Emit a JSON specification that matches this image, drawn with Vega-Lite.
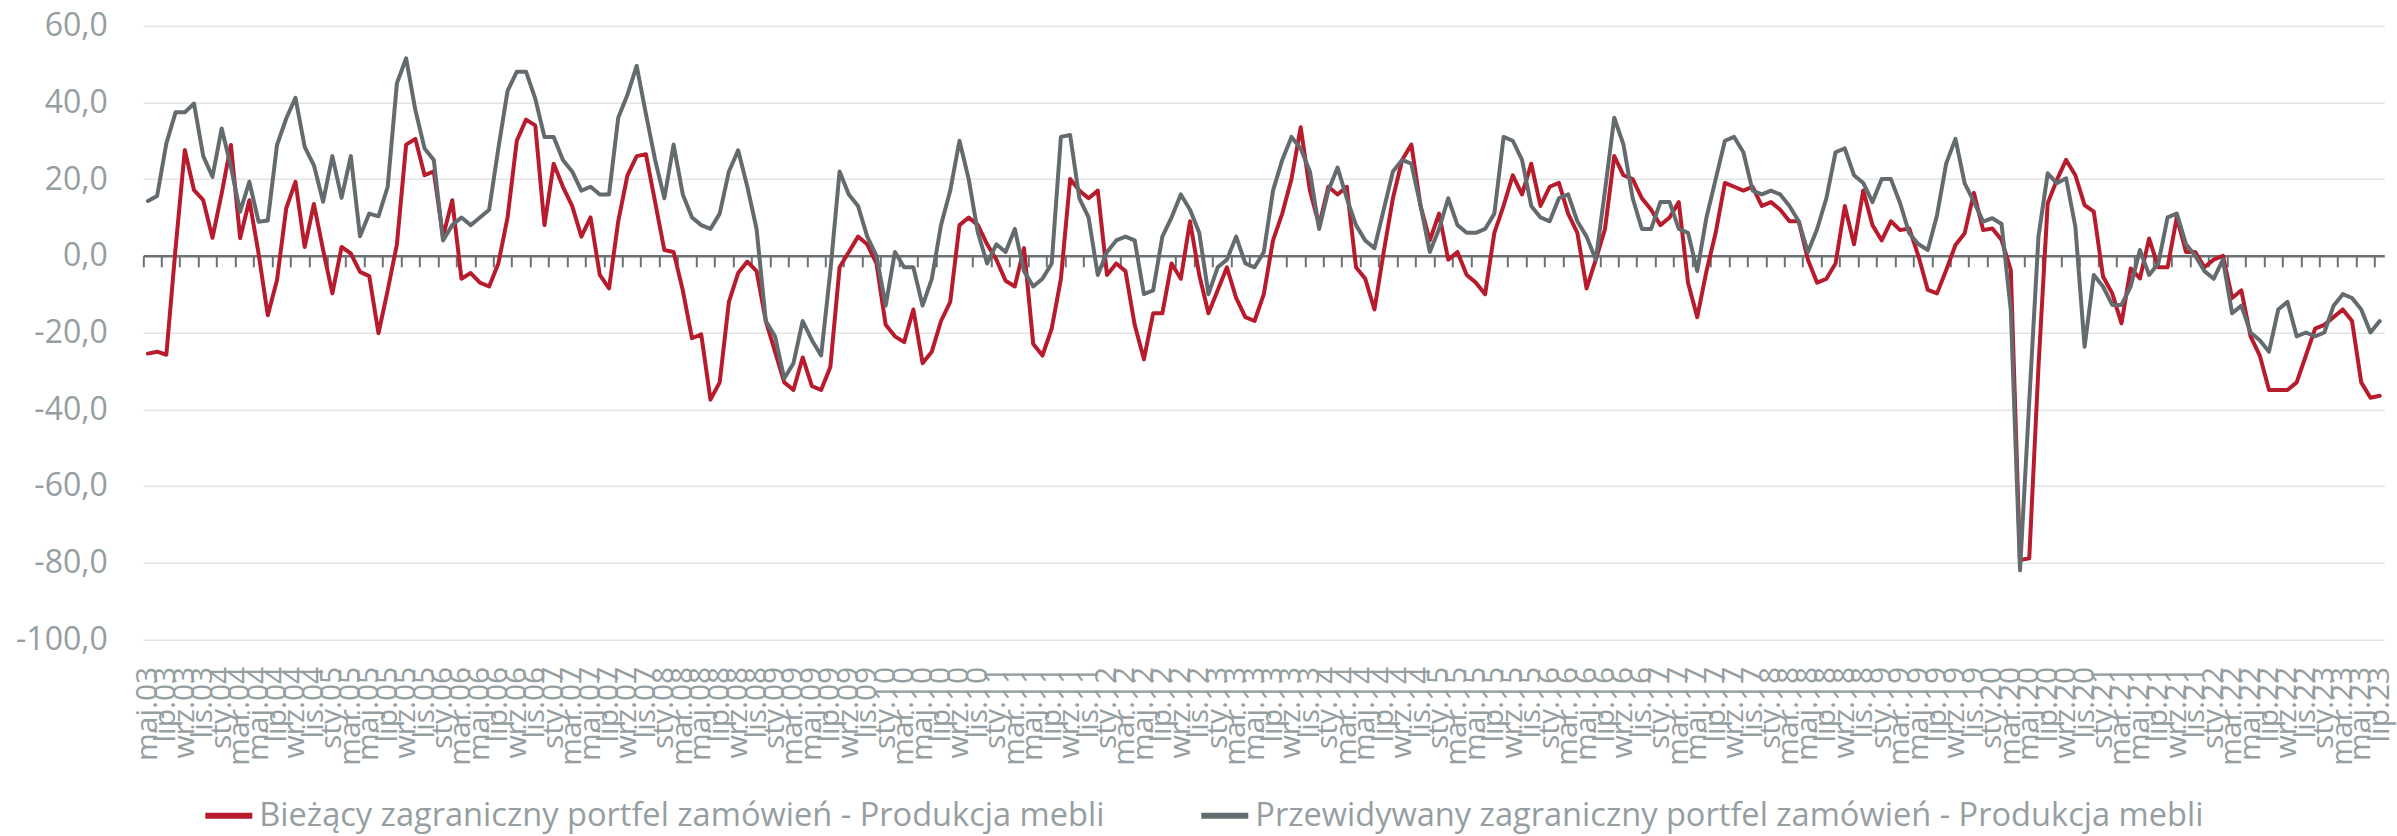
{
  "$schema": "https://vega.github.io/schema/vega-lite/v6.json",
  "autosize": {"type": "none"},
  "width": 2241,
  "height": 613.6,
  "padding": {"left": 143.3, "top": 25.7, "right": 12.7, "bottom": 196.7},
  "background": "white",
  "config": {"view": {"stroke": null}, "font": "Open Sans"},
  "data": {"values": [
    {"m":"maj.03","a":-25.5,"b":14.3},{"m":"cze.03","a":-25,"b":15.6},{"m":"lip.03","a":-25.8,"b":29.3},{"m":"sie.03","a":2,"b":37.4},{"m":"wrz.03","a":27.6,"b":37.4},{"m":"paź.03","a":17.1,"b":39.7},{"m":"lis.03","a":14.5,"b":26},{"m":"gru.03","a":4.7,"b":20.6},
    {"m":"sty.04","a":16.3,"b":33.2},{"m":"lut.04","a":28.9,"b":23.2},{"m":"mar.04","a":4.6,"b":11.5},{"m":"kwi.04","a":14.5,"b":19.3},{"m":"maj.04","a":0.6,"b":8.9},{"m":"cze.04","a":-15.5,"b":9.2},{"m":"lip.04","a":-6.3,"b":28.9},{"m":"sie.04","a":12.4,"b":35.8},{"m":"wrz.04","a":19.3,"b":41.2},{"m":"paź.04","a":2.3,"b":28.4},{"m":"lis.04","a":13.5,"b":23.6},{"m":"gru.04","a":1.5,"b":14.1},
    {"m":"sty.05","a":-9.8,"b":26},{"m":"lut.05","a":2.3,"b":15.1},{"m":"mar.05","a":0.6,"b":26},{"m":"kwi.05","a":-4.2,"b":5.1},{"m":"maj.05","a":-5.3,"b":11},{"m":"cze.05","a":-20.2,"b":10.3},{"m":"lip.05","a":-9,"b":18},{"m":"sie.05","a":3,"b":45},{"m":"wrz.05","a":29,"b":51.5},{"m":"paź.05","a":30.5,"b":38},{"m":"lis.05","a":21,"b":28},{"m":"gru.05","a":22,"b":25},
    {"m":"sty.06","a":5,"b":4},{"m":"lut.06","a":14.5,"b":8},{"m":"mar.06","a":-6,"b":10},{"m":"kwi.06","a":-4.5,"b":8},{"m":"maj.06","a":-7,"b":10},{"m":"cze.06","a":-8,"b":12},{"m":"lip.06","a":-2,"b":28},{"m":"sie.06","a":10,"b":43},{"m":"wrz.06","a":30,"b":48},{"m":"paź.06","a":35.5,"b":48},{"m":"lis.06","a":34,"b":41},{"m":"gru.06","a":8,"b":31},
    {"m":"sty.07","a":24,"b":31},{"m":"lut.07","a":18,"b":25},{"m":"mar.07","a":13,"b":22},{"m":"kwi.07","a":5,"b":17},{"m":"maj.07","a":10,"b":18},{"m":"cze.07","a":-5,"b":16},{"m":"lip.07","a":-8.5,"b":16},{"m":"sie.07","a":9,"b":36},{"m":"wrz.07","a":21,"b":42},{"m":"paź.07","a":26,"b":49.5},{"m":"lis.07","a":26.5,"b":37},{"m":"gru.07","a":14,"b":25},
    {"m":"sty.08","a":1.5,"b":15},{"m":"lut.08","a":1,"b":29},{"m":"mar.08","a":-9,"b":16},{"m":"kwi.08","a":-21.5,"b":10},{"m":"maj.08","a":-20.5,"b":8},{"m":"cze.08","a":-37.5,"b":7},{"m":"lip.08","a":-33,"b":11},{"m":"sie.08","a":-12,"b":22},{"m":"wrz.08","a":-4.5,"b":27.5},{"m":"paź.08","a":-1.5,"b":18},{"m":"lis.08","a":-4,"b":7},{"m":"gru.08","a":-17,"b":-17},
    {"m":"sty.09","a":-25,"b":-21},{"m":"lut.09","a":-33,"b":-32},{"m":"mar.09","a":-35,"b":-28},{"m":"kwi.09","a":-26.5,"b":-17},{"m":"maj.09","a":-34,"b":-22},{"m":"cze.09","a":-35,"b":-26},{"m":"lip.09","a":-29,"b":-4},{"m":"sie.09","a":-3,"b":22},{"m":"wrz.09","a":1,"b":16},{"m":"paź.09","a":5,"b":13},{"m":"lis.09","a":3,"b":5},{"m":"gru.09","a":-2,"b":0},
    {"m":"sty.10","a":-18,"b":-13},{"m":"lut.10","a":-21,"b":1},{"m":"mar.10","a":-22.5,"b":-3},{"m":"kwi.10","a":-14,"b":-3},{"m":"maj.10","a":-28,"b":-13},{"m":"cze.10","a":-25,"b":-6},{"m":"lip.10","a":-17,"b":8},{"m":"sie.10","a":-12,"b":17},{"m":"wrz.10","a":8,"b":30},{"m":"paź.10","a":10,"b":20},{"m":"lis.10","a":8,"b":6},{"m":"gru.10","a":3,"b":-2},
    {"m":"sty.11","a":-1,"b":3},{"m":"lut.11","a":-6.5,"b":1},{"m":"mar.11","a":-8,"b":7},{"m":"kwi.11","a":2,"b":-4},{"m":"maj.11","a":-23,"b":-8},{"m":"cze.11","a":-26,"b":-6},{"m":"lip.11","a":-19,"b":-2},{"m":"sie.11","a":-6,"b":31},{"m":"wrz.11","a":20,"b":31.5},{"m":"paź.11","a":17,"b":15},{"m":"lis.11","a":15,"b":10},{"m":"gru.11","a":17,"b":-5},
    {"m":"sty.12","a":-5,"b":1},{"m":"lut.12","a":-2,"b":4},{"m":"mar.12","a":-4,"b":5},{"m":"kwi.12","a":-18,"b":4},{"m":"maj.12","a":-27,"b":-10},{"m":"cze.12","a":-15,"b":-9},{"m":"lip.12","a":-15,"b":5},{"m":"sie.12","a":-2,"b":10},{"m":"wrz.12","a":-6,"b":16},{"m":"paź.12","a":9,"b":12},{"m":"lis.12","a":-5,"b":6},{"m":"gru.12","a":-15,"b":-10},
    {"m":"sty.13","a":-9,"b":-3},{"m":"lut.13","a":-3,"b":-1},{"m":"mar.13","a":-11,"b":5},{"m":"kwi.13","a":-16,"b":-2},{"m":"maj.13","a":-17,"b":-3},{"m":"cze.13","a":-10,"b":1},{"m":"lip.13","a":4,"b":17},{"m":"sie.13","a":11,"b":25},{"m":"wrz.13","a":20,"b":31},{"m":"paź.13","a":33.5,"b":28},{"m":"lis.13","a":17,"b":22},{"m":"gru.13","a":8,"b":7},
    {"m":"sty.14","a":18,"b":17},{"m":"lut.14","a":16,"b":23},{"m":"mar.14","a":18,"b":15},{"m":"kwi.14","a":-3,"b":8},{"m":"maj.14","a":-6,"b":4},{"m":"cze.14","a":-14,"b":2},{"m":"lip.14","a":1,"b":12},{"m":"sie.14","a":15,"b":22},{"m":"wrz.14","a":25,"b":25},{"m":"paź.14","a":29,"b":24},{"m":"lis.14","a":13,"b":13},{"m":"gru.14","a":4,"b":1},
    {"m":"sty.15","a":11,"b":7},{"m":"lut.15","a":-1,"b":15},{"m":"mar.15","a":1,"b":8},{"m":"kwi.15","a":-5,"b":6},{"m":"maj.15","a":-7,"b":6},{"m":"cze.15","a":-10,"b":7},{"m":"lip.15","a":6,"b":11},{"m":"sie.15","a":13,"b":31},{"m":"wrz.15","a":21,"b":30},{"m":"paź.15","a":16,"b":25},{"m":"lis.15","a":24,"b":13},{"m":"gru.15","a":13,"b":10},
    {"m":"sty.16","a":18,"b":9},{"m":"lut.16","a":19,"b":15},{"m":"mar.16","a":11,"b":16},{"m":"kwi.16","a":6,"b":9},{"m":"maj.16","a":-8.5,"b":5},{"m":"cze.16","a":-1,"b":-1},{"m":"lip.16","a":7,"b":17},{"m":"sie.16","a":26,"b":36},{"m":"wrz.16","a":21,"b":29},{"m":"paź.16","a":20,"b":15},{"m":"lis.16","a":15,"b":7},{"m":"gru.16","a":12,"b":7},
    {"m":"sty.17","a":8,"b":14},{"m":"lut.17","a":10,"b":14},{"m":"mar.17","a":14,"b":7},{"m":"kwi.17","a":-7,"b":6},{"m":"maj.17","a":-16,"b":-4},{"m":"cze.17","a":-4,"b":10},{"m":"lip.17","a":6,"b":20},{"m":"sie.17","a":19,"b":30},{"m":"wrz.17","a":18,"b":31},{"m":"paź.17","a":17,"b":27},{"m":"lis.17","a":18,"b":17},{"m":"gru.17","a":13,"b":16},
    {"m":"sty.18","a":14,"b":17},{"m":"lut.18","a":12,"b":16},{"m":"mar.18","a":9,"b":13},{"m":"kwi.18","a":9,"b":9},{"m":"maj.18","a":-1,"b":1},{"m":"cze.18","a":-7,"b":7},{"m":"lip.18","a":-6,"b":15},{"m":"sie.18","a":-2,"b":27},{"m":"wrz.18","a":13,"b":28},{"m":"paź.18","a":3,"b":21},{"m":"lis.18","a":17,"b":19},{"m":"gru.18","a":8,"b":14},
    {"m":"sty.19","a":4,"b":20},{"m":"lut.19","a":9,"b":20},{"m":"mar.19","a":6.7,"b":13.7},{"m":"kwi.19","a":7.1,"b":5.8},{"m":"maj.19","a":-0.2,"b":3},{"m":"cze.19","a":-8.9,"b":1.5},{"m":"lip.19","a":-9.8,"b":10.6},{"m":"sie.19","a":-3.7,"b":24.1},{"m":"wrz.19","a":2.8,"b":30.5},{"m":"paź.19","a":5.9,"b":18.9},{"m":"lis.19","a":16.4,"b":14.1},{"m":"gru.19","a":6.7,"b":8.9},
    {"m":"sty.20","a":7.1,"b":9.8},{"m":"lut.20","a":4.1,"b":8.3},{"m":"mar.20","a":-3.7,"b":-14.2},{"m":"kwi.20","a":-79.3,"b":-82},{"m":"maj.20","a":-78.9,"b":-38},{"m":"cze.20","a":-29,"b":5},{"m":"lip.20","a":13.7,"b":21.5},{"m":"sie.20","a":19.8,"b":18.9},{"m":"wrz.20","a":25,"b":20.2},{"m":"paź.20","a":21,"b":7.6},{"m":"lis.20","a":13.2,"b":-23.7},{"m":"gru.20","a":11.5,"b":-5},
    {"m":"sty.21","a":-5.4,"b":-8},{"m":"lut.21","a":-9.8,"b":-12.8},{"m":"mar.21","a":-17.6,"b":-12.8},{"m":"kwi.21","a":-3.3,"b":-8},{"m":"maj.21","a":-5.9,"b":1.5},{"m":"cze.21","a":4.5,"b":-5},{"m":"lip.21","a":-3,"b":-2},{"m":"sie.21","a":-3,"b":10},{"m":"wrz.21","a":10,"b":11},{"m":"paź.21","a":1,"b":3},{"m":"lis.21","a":1,"b":0},{"m":"gru.21","a":-3,"b":-4},
    {"m":"sty.22","a":-1,"b":-6},{"m":"lut.22","a":0,"b":-1},{"m":"mar.22","a":-11,"b":-15},{"m":"kwi.22","a":-9,"b":-13},{"m":"maj.22","a":-21,"b":-20},{"m":"cze.22","a":-26,"b":-22},{"m":"lip.22","a":-35,"b":-25},{"m":"sie.22","a":-35,"b":-14},{"m":"wrz.22","a":-35,"b":-12},{"m":"paź.22","a":-33,"b":-21},{"m":"lis.22","a":-26,"b":-20},{"m":"gru.22","a":-19,"b":-21},
    {"m":"sty.23","a":-18,"b":-20},{"m":"lut.23","a":-16,"b":-13},{"m":"mar.23","a":-14,"b":-10},{"m":"kwi.23","a":-17,"b":-11},{"m":"maj.23","a":-33,"b":-14},{"m":"cze.23","a":-37,"b":-20},{"m":"lip.23","a":-36.5,"b":-17}
  ]},
  "transform": [{"fold": ["a", "b"], "as": ["s", "v"]}],
  "resolve": {"axis": {"x": "independent"}},
  "layer": [
    {
      "mark": {"type": "point", "opacity": 0},
      "encoding": {
        "x": {"field": "m", "type": "ordinal", "sort": null,
          "scale": {"type": "band", "paddingInner": 0, "paddingOuter": 0},
          "axis": {"orient": "bottom", "offset": -383.5, "title": null, "labels": false, "grid": false,
            "bandPosition": 0, "domain": true, "domainColor": "#6b7174", "domainWidth": 2.5,
            "ticks": true, "tickColor": "#6b7174", "tickWidth": 2, "tickSize": 11,
            "values": ["maj.03","lip.03","wrz.03","lis.03","sty.04","mar.04","maj.04","lip.04","wrz.04","lis.04","sty.05","mar.05","maj.05","lip.05","wrz.05","lis.05","sty.06","mar.06","maj.06","lip.06","wrz.06","lis.06","sty.07","mar.07","maj.07","lip.07","wrz.07","lis.07","sty.08","mar.08","maj.08","lip.08","wrz.08","lis.08","sty.09","mar.09","maj.09","lip.09","wrz.09","lis.09","sty.10","mar.10","maj.10","lip.10","wrz.10","lis.10","sty.11","mar.11","maj.11","lip.11","wrz.11","lis.11","sty.12","mar.12","maj.12","lip.12","wrz.12","lis.12","sty.13","mar.13","maj.13","lip.13","wrz.13","lis.13","sty.14","mar.14","maj.14","lip.14","wrz.14","lis.14","sty.15","mar.15","maj.15","lip.15","wrz.15","lis.15","sty.16","mar.16","maj.16","lip.16","wrz.16","lis.16","sty.17","mar.17","maj.17","lip.17","wrz.17","lis.17","sty.18","mar.18","maj.18","lip.18","wrz.18","lis.18","sty.19","mar.19","maj.19","lip.19","wrz.19","lis.19","sty.20","mar.20","maj.20","lip.20","wrz.20","lis.20","sty.21","mar.21","maj.21","lip.21","wrz.21","lis.21","sty.22","mar.22","maj.22","lip.22","wrz.22","lis.22","sty.23","mar.23","maj.23","lip.23"]}
        },
        "y": {"field": "v", "type": "quantitative", "scale": {"domain": [-100, 60], "nice": false, "zero": false},
          "axis": {"title": null, "values": [-100, -80, -60, -40, -20, 0, 20, 40, 60], "labelExpr": "datum.value + ',0'",
            "domain": false, "ticks": false, "grid": true, "gridColor": "#e3e3e3", "gridWidth": 1.5,
            "labelFontSize": 32, "labelColor": "#959ea1", "labelFont": "Open Sans", "labelPadding": 36}}
      }
    },
    {
      "mark": {"type": "line", "strokeWidth": 4, "strokeJoin": "round", "strokeCap": "round"},
      "encoding": {
        "x": {"field": "m", "type": "ordinal", "sort": null,
          "axis": {"orient": "bottom", "title": null, "labelAngle": -90, "labelAlign": "right", "labelBaseline": "middle",
            "labelPadding": 27, "ticks": false, "domain": false, "grid": false, "labelOverlap": false, "labelBound": false, "labelFlush": false,
            "labelFontSize": 30, "labelColor": "#959ea1", "labelFont": "Open Sans",
            "values": ["maj.03","lip.03","wrz.03","lis.03","sty.04","mar.04","maj.04","lip.04","wrz.04","lis.04","sty.05","mar.05","maj.05","lip.05","wrz.05","lis.05","sty.06","mar.06","maj.06","lip.06","wrz.06","lis.06","sty.07","mar.07","maj.07","lip.07","wrz.07","lis.07","sty.08","mar.08","maj.08","lip.08","wrz.08","lis.08","sty.09","mar.09","maj.09","lip.09","wrz.09","lis.09","sty.10","mar.10","maj.10","lip.10","wrz.10","lis.10","sty.11","mar.11","maj.11","lip.11","wrz.11","lis.11","sty.12","mar.12","maj.12","lip.12","wrz.12","lis.12","sty.13","mar.13","maj.13","lip.13","wrz.13","lis.13","sty.14","mar.14","maj.14","lip.14","wrz.14","lis.14","sty.15","mar.15","maj.15","lip.15","wrz.15","lis.15","sty.16","mar.16","maj.16","lip.16","wrz.16","lis.16","sty.17","mar.17","maj.17","lip.17","wrz.17","lis.17","sty.18","mar.18","maj.18","lip.18","wrz.18","lis.18","sty.19","mar.19","maj.19","lip.19","wrz.19","lis.19","sty.20","mar.20","maj.20","lip.20","wrz.20","lis.20","sty.21","mar.21","maj.21","lip.21","wrz.21","lis.21","sty.22","mar.22","maj.22","lip.22","wrz.22","lis.22","sty.23","mar.23","maj.23","lip.23"]}
        },
        "y": {"field": "v", "type": "quantitative"},
        "color": {"field": "s", "type": "nominal",
          "scale": {"domain": ["a", "b"], "range": ["#b71b2c", "#646b6e"]},
          "legend": {"orient": "none", "legendX": 59, "legendY": 763, "direction": "horizontal", "title": null,
            "symbolType": "stroke", "symbolSize": 2209, "symbolStrokeWidth": 6, "labelOffset": 4, "columnPadding": 84,
            "labelFontSize": 32.6, "labelFont": "Open Sans", "labelColor": "#959ea1", "labelLimit": 0,
            "labelExpr": "datum.label == 'a' ? 'Bieżący zagraniczny portfel zamówień - Produkcja mebli' : 'Przewidywany zagraniczny portfel zamówień - Produkcja mebli'"}
        }
      }
    }
  ]
}
